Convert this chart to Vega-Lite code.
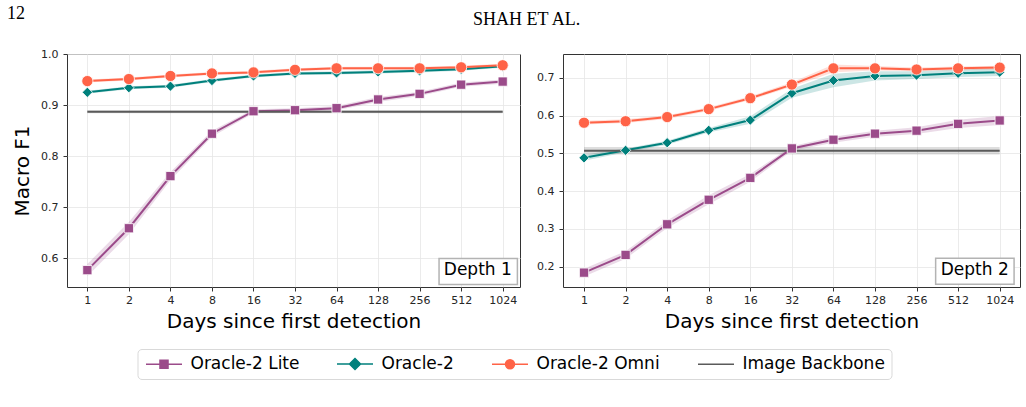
{
  "$schema": "https://vega.github.io/schema/vega-lite/v6.json",
  "background": "white",
  "padding": {"left": 6, "top": 4, "right": 0, "bottom": 0},
  "bounds": "flush",
  "spacing": 43,
  "config": {
    "font": "DejaVu Sans",
    "view": {"stroke": "#333333", "strokeWidth": 1},
    "axis": {
      "labelFont": "DejaVu Sans", "labelFontSize": 11, "labelColor": "#262626",
      "titleFont": "DejaVu Sans", "titleFontSize": 20, "titleFontWeight": "normal", "titleColor": "#000000",
      "tickColor": "#333333", "tickSize": 4, "domain": false,
      "gridColor": "#e6e6e6", "gridWidth": 0.8, "labelFlush": false, "labelOverlap": false
    }
  },
  "data": {"values": [
    {"d":1,"s":"Oracle-2 Lite","x":1,"y":0.577,"lo":0.565,"hi":0.589},
    {"d":1,"s":"Oracle-2 Lite","x":2,"y":0.659,"lo":0.647,"hi":0.671},
    {"d":1,"s":"Oracle-2 Lite","x":4,"y":0.761,"lo":0.753,"hi":0.769},
    {"d":1,"s":"Oracle-2 Lite","x":8,"y":0.844,"lo":0.838,"hi":0.85},
    {"d":1,"s":"Oracle-2 Lite","x":16,"y":0.888,"lo":0.884,"hi":0.892},
    {"d":1,"s":"Oracle-2 Lite","x":32,"y":0.89,"lo":0.886,"hi":0.894},
    {"d":1,"s":"Oracle-2 Lite","x":64,"y":0.894,"lo":0.89,"hi":0.898},
    {"d":1,"s":"Oracle-2 Lite","x":128,"y":0.911,"lo":0.906,"hi":0.916},
    {"d":1,"s":"Oracle-2 Lite","x":256,"y":0.922,"lo":0.918,"hi":0.926},
    {"d":1,"s":"Oracle-2 Lite","x":512,"y":0.94,"lo":0.936,"hi":0.944},
    {"d":1,"s":"Oracle-2 Lite","x":1024,"y":0.946,"lo":0.942,"hi":0.95},
    {"d":1,"s":"Oracle-2","x":1,"y":0.925,"lo":0.922,"hi":0.928},
    {"d":1,"s":"Oracle-2","x":2,"y":0.934,"lo":0.931,"hi":0.937},
    {"d":1,"s":"Oracle-2","x":4,"y":0.937,"lo":0.934,"hi":0.94},
    {"d":1,"s":"Oracle-2","x":8,"y":0.948,"lo":0.945,"hi":0.951},
    {"d":1,"s":"Oracle-2","x":16,"y":0.957,"lo":0.954,"hi":0.96},
    {"d":1,"s":"Oracle-2","x":32,"y":0.962,"lo":0.959,"hi":0.965},
    {"d":1,"s":"Oracle-2","x":64,"y":0.963,"lo":0.96,"hi":0.966},
    {"d":1,"s":"Oracle-2","x":128,"y":0.965,"lo":0.962,"hi":0.968},
    {"d":1,"s":"Oracle-2","x":256,"y":0.967,"lo":0.964,"hi":0.97},
    {"d":1,"s":"Oracle-2","x":512,"y":0.97,"lo":0.967,"hi":0.973},
    {"d":1,"s":"Oracle-2","x":1024,"y":0.976,"lo":0.973,"hi":0.979},
    {"d":1,"s":"Oracle-2 Omni","x":1,"y":0.947,"lo":0.944,"hi":0.95},
    {"d":1,"s":"Oracle-2 Omni","x":2,"y":0.951,"lo":0.948,"hi":0.954},
    {"d":1,"s":"Oracle-2 Omni","x":4,"y":0.957,"lo":0.954,"hi":0.96},
    {"d":1,"s":"Oracle-2 Omni","x":8,"y":0.962,"lo":0.959,"hi":0.965},
    {"d":1,"s":"Oracle-2 Omni","x":16,"y":0.964,"lo":0.961,"hi":0.967},
    {"d":1,"s":"Oracle-2 Omni","x":32,"y":0.969,"lo":0.966,"hi":0.972},
    {"d":1,"s":"Oracle-2 Omni","x":64,"y":0.972,"lo":0.969,"hi":0.975},
    {"d":1,"s":"Oracle-2 Omni","x":128,"y":0.972,"lo":0.969,"hi":0.975},
    {"d":1,"s":"Oracle-2 Omni","x":256,"y":0.972,"lo":0.969,"hi":0.975},
    {"d":1,"s":"Oracle-2 Omni","x":512,"y":0.974,"lo":0.971,"hi":0.977},
    {"d":1,"s":"Oracle-2 Omni","x":1024,"y":0.978,"lo":0.975,"hi":0.981},
    {"d":1,"s":"Image Backbone","x":1,"y":0.887,"lo":0.884,"hi":0.89},
    {"d":1,"s":"Image Backbone","x":1024,"y":0.887,"lo":0.884,"hi":0.89},
    {"d":2,"s":"Oracle-2 Lite","x":1,"y":0.184,"lo":0.174,"hi":0.194},
    {"d":2,"s":"Oracle-2 Lite","x":2,"y":0.231,"lo":0.221,"hi":0.241},
    {"d":2,"s":"Oracle-2 Lite","x":4,"y":0.312,"lo":0.302,"hi":0.322},
    {"d":2,"s":"Oracle-2 Lite","x":8,"y":0.377,"lo":0.365,"hi":0.389},
    {"d":2,"s":"Oracle-2 Lite","x":16,"y":0.435,"lo":0.425,"hi":0.445},
    {"d":2,"s":"Oracle-2 Lite","x":32,"y":0.513,"lo":0.507,"hi":0.519},
    {"d":2,"s":"Oracle-2 Lite","x":64,"y":0.536,"lo":0.528,"hi":0.544},
    {"d":2,"s":"Oracle-2 Lite","x":128,"y":0.552,"lo":0.544,"hi":0.56},
    {"d":2,"s":"Oracle-2 Lite","x":256,"y":0.56,"lo":0.551,"hi":0.569},
    {"d":2,"s":"Oracle-2 Lite","x":512,"y":0.578,"lo":0.567,"hi":0.589},
    {"d":2,"s":"Oracle-2 Lite","x":1024,"y":0.587,"lo":0.575,"hi":0.599},
    {"d":2,"s":"Oracle-2","x":1,"y":0.488,"lo":0.48,"hi":0.496},
    {"d":2,"s":"Oracle-2","x":2,"y":0.508,"lo":0.503,"hi":0.513},
    {"d":2,"s":"Oracle-2","x":4,"y":0.528,"lo":0.523,"hi":0.533},
    {"d":2,"s":"Oracle-2","x":8,"y":0.561,"lo":0.555,"hi":0.567},
    {"d":2,"s":"Oracle-2","x":16,"y":0.588,"lo":0.578,"hi":0.598},
    {"d":2,"s":"Oracle-2","x":32,"y":0.659,"lo":0.647,"hi":0.671},
    {"d":2,"s":"Oracle-2","x":64,"y":0.693,"lo":0.675,"hi":0.711},
    {"d":2,"s":"Oracle-2","x":128,"y":0.705,"lo":0.693,"hi":0.717},
    {"d":2,"s":"Oracle-2","x":256,"y":0.707,"lo":0.697,"hi":0.717},
    {"d":2,"s":"Oracle-2","x":512,"y":0.712,"lo":0.702,"hi":0.722},
    {"d":2,"s":"Oracle-2","x":1024,"y":0.715,"lo":0.705,"hi":0.725},
    {"d":2,"s":"Oracle-2 Omni","x":1,"y":0.581,"lo":0.576,"hi":0.586},
    {"d":2,"s":"Oracle-2 Omni","x":2,"y":0.585,"lo":0.58,"hi":0.59},
    {"d":2,"s":"Oracle-2 Omni","x":4,"y":0.596,"lo":0.591,"hi":0.601},
    {"d":2,"s":"Oracle-2 Omni","x":8,"y":0.617,"lo":0.612,"hi":0.622},
    {"d":2,"s":"Oracle-2 Omni","x":16,"y":0.646,"lo":0.641,"hi":0.651},
    {"d":2,"s":"Oracle-2 Omni","x":32,"y":0.682,"lo":0.676,"hi":0.688},
    {"d":2,"s":"Oracle-2 Omni","x":64,"y":0.725,"lo":0.715,"hi":0.735},
    {"d":2,"s":"Oracle-2 Omni","x":128,"y":0.725,"lo":0.719,"hi":0.731},
    {"d":2,"s":"Oracle-2 Omni","x":256,"y":0.722,"lo":0.717,"hi":0.727},
    {"d":2,"s":"Oracle-2 Omni","x":512,"y":0.725,"lo":0.72,"hi":0.73},
    {"d":2,"s":"Oracle-2 Omni","x":1024,"y":0.727,"lo":0.722,"hi":0.732},
    {"d":2,"s":"Image Backbone","x":1,"y":0.507,"lo":0.497,"hi":0.517},
    {"d":2,"s":"Image Backbone","x":1024,"y":0.507,"lo":0.497,"hi":0.517}
  ]},
  "hconcat": [
    {
      "width": 453, "height": 233,
      "title": {"text": "12", "anchor": "start", "frame": "group", "dx": -60, "font": "Liberation Serif", "fontSize": 18, "fontWeight": "normal", "color": "#000000", "offset": 11, "baseline": "alphabetic"},
      "transform": [{"filter": "datum.d == 1"}],
      "layer": [
        {"mark": {"type": "area", "opacity": 0.2},
         "encoding": {
           "x": {"field": "x", "type": "quantitative", "scale": {"type": "log", "base": 2, "domain": [0.712, 1367], "nice": false}},
           "y": {"field": "lo", "type": "quantitative", "stack": null, "scale": {"domain": [0.544, 1.0], "nice": false, "zero": false}},
           "y2": {"field": "hi"},
           "color": {"field": "s", "type": "nominal", "scale": {"domain": ["Oracle-2 Lite","Oracle-2","Oracle-2 Omni","Image Backbone"], "range": ["#9b4b8a","#00807c","#ff6347","#5a5a5a"]}}
         }},
        {"mark": {"type": "line", "strokeWidth": 2},
         "encoding": {
           "x": {"field": "x", "type": "quantitative", "scale": {"type": "log", "base": 2, "domain": [0.712, 1367], "nice": false},
                 "axis": {"values": [1,2,4,8,16,32,64,128,256,512,1024], "format": "d", "labelPadding": 3, "titlePadding": 6, "title": "Days since first detection"}},
           "y": {"field": "y", "type": "quantitative", "scale": {"domain": [0.544, 1.0], "nice": false, "zero": false},
                 "axis": {"values": [0.6,0.7,0.8,0.9,1.0], "format": ".1f", "labelPadding": 5, "titlePadding": 8.5, "title": "Macro F1"}},
           "color": {"field": "s", "type": "nominal",
             "legend": {
               "orient": "none", "legendX": 70.5, "legendY": 295, "direction": "horizontal", "columns": 4, "title": null,
               "labelFont": "DejaVu Sans", "labelFontSize": 17, "labelColor": "#000000",
               "symbolSize": 144, "symbolOffset": 12, "labelOffset": 18, "columnPadding": 34,
               "padding": 6, "strokeColor": "#d9d9d9", "fillColor": "white", "cornerRadius": 4,
               "symbolOpacity": 1, "symbolStrokeWidth": 1.5,
               "encode": {"symbols": {"update": {
                 "shape": {"signal": "datum.value === 'Oracle-2 Lite' ? 'M-3,0H3M-0.67,-0.67H0.67V0.67H-0.67Z' : datum.value === 'Oracle-2' ? 'M-3,0H3M-0.92,0L0,-0.92L0.92,0L0,0.92Z' : datum.value === 'Oracle-2 Omni' ? 'M-3,0H3M0.75,0A0.75,0.75 0 1,1 -0.75,0A0.75,0.75 0 1,1 0.75,0Z' : 'M-3,0H3'"},
                 "fill": {"signal": "datum.value === 'Image Backbone' ? 'transparent' : scale('color', datum.value)"},
                 "stroke": {"signal": "scale('color', datum.value)"},
                 "strokeWidth": {"value": 1.5},
                 "opacity": {"value": 1},
                 "fillOpacity": {"value": 1},
                 "strokeOpacity": {"value": 1}
               }}}
             }}
         }},
        {"transform": [{"filter": "datum.s != 'Image Backbone'"}],
         "mark": {"type": "point", "filled": true, "opacity": 1, "stroke": "white", "strokeWidth": 0.8},
         "encoding": {
           "x": {"field": "x", "type": "quantitative"},
           "y": {"field": "y", "type": "quantitative"},
           "color": {"field": "s", "type": "nominal"},
           "shape": {"field": "s", "type": "nominal", "scale": {"domain": ["Oracle-2 Lite","Oracle-2","Oracle-2 Omni"], "range": ["square","diamond","circle"]}, "legend": null},
           "size": {"field": "s", "type": "nominal", "scale": {"domain": ["Oracle-2 Lite","Oracle-2","Oracle-2 Omni"], "range": [85,125,85]}, "legend": null}
         }},
        {"transform": [{"filter": "datum.x == 1 && datum.s == 'Image Backbone'"}],
         "mark": {"type": "rect", "fill": "white", "stroke": "#b3b3b3", "strokeWidth": 1.5},
         "encoding": {
           "x": {"datum": 354, "type": "quantitative"}, "x2": {"datum": 1309},
           "y": {"datum": 0.549, "type": "quantitative"}, "y2": {"datum": 0.6}
         }},
        {"transform": [{"filter": "datum.x == 1 && datum.s == 'Image Backbone'"}],
         "mark": {"type": "text", "text": "Depth 1", "fontSize": 17, "font": "DejaVu Sans", "fill": "#000000", "align": "center", "baseline": "middle"},
         "encoding": {
           "x": {"datum": 676, "type": "quantitative"},
           "y": {"datum": 0.577, "type": "quantitative"}
         }}
      ]
    },
    {
      "width": 457, "height": 233,
      "title": {"text": "SHAH ET AL.", "anchor": "start", "frame": "group", "dx": -90, "font": "Liberation Serif", "fontSize": 18, "fontWeight": "normal", "color": "#000000", "offset": 11, "baseline": "alphabetic"},
      "transform": [{"filter": "datum.d == 2"}],
      "layer": [
        {"mark": {"type": "area", "opacity": 0.2},
         "encoding": {
           "x": {"field": "x", "type": "quantitative", "scale": {"type": "log", "base": 2, "domain": [0.704, 1437], "nice": false}},
           "y": {"field": "lo", "type": "quantitative", "stack": null, "scale": {"domain": [0.146, 0.763], "nice": false, "zero": false}},
           "y2": {"field": "hi"},
           "color": {"field": "s", "type": "nominal"}
         }},
        {"mark": {"type": "line", "strokeWidth": 2},
         "encoding": {
           "x": {"field": "x", "type": "quantitative", "scale": {"type": "log", "base": 2, "domain": [0.704, 1437], "nice": false},
                 "axis": {"values": [1,2,4,8,16,32,64,128,256,512,1024], "format": "d", "labelPadding": 3, "titlePadding": 6, "title": "Days since first detection"}},
           "y": {"field": "y", "type": "quantitative", "scale": {"domain": [0.146, 0.763], "nice": false, "zero": false},
                 "axis": {"values": [0.2,0.3,0.4,0.5,0.6,0.7], "format": ".1f", "labelPadding": 5, "title": null}},
           "color": {"field": "s", "type": "nominal"}
         }},
        {"transform": [{"filter": "datum.s != 'Image Backbone'"}],
         "mark": {"type": "point", "filled": true, "opacity": 1, "stroke": "white", "strokeWidth": 0.8},
         "encoding": {
           "x": {"field": "x", "type": "quantitative"},
           "y": {"field": "y", "type": "quantitative"},
           "color": {"field": "s", "type": "nominal"},
           "shape": {"field": "s", "type": "nominal", "legend": null},
           "size": {"field": "s", "type": "nominal", "legend": null}
         }},
        {"transform": [{"filter": "datum.x == 1 && datum.s == 'Image Backbone'"}],
         "mark": {"type": "rect", "fill": "white", "stroke": "#b3b3b3", "strokeWidth": 1.5},
         "encoding": {
           "x": {"datum": 352, "type": "quantitative"}, "x2": {"datum": 1302},
           "y": {"datum": 0.153, "type": "quantitative"}, "y2": {"datum": 0.222}
         }},
        {"transform": [{"filter": "datum.x == 1 && datum.s == 'Image Backbone'"}],
         "mark": {"type": "text", "text": "Depth 2", "fontSize": 17, "font": "DejaVu Sans", "fill": "#000000", "align": "center", "baseline": "middle"},
         "encoding": {
           "x": {"datum": 676, "type": "quantitative"},
           "y": {"datum": 0.191, "type": "quantitative"}
         }}
      ]
    }
  ],
  "resolve": {"scale": {"y": "independent", "x": "independent"}}
}
